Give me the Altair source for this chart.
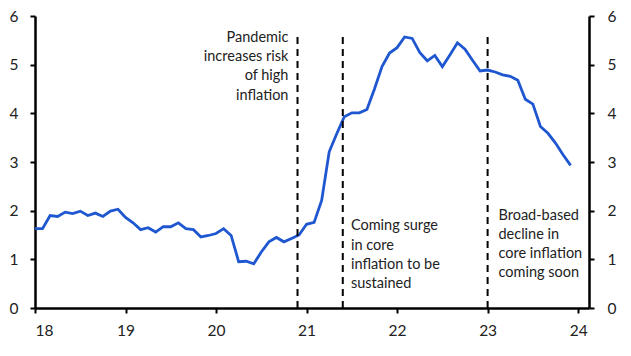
import altair as alt
import pandas as pd

# Monthly core inflation, Jan 2018 .. Dec 2023 (%)
values_2018 = [1.63, 1.63, 1.90, 1.88, 1.97, 1.94, 1.99, 1.90, 1.95, 1.88, 1.99, 2.03]
values_2019 = [1.86, 1.75, 1.61, 1.65, 1.56, 1.67, 1.67, 1.75, 1.63, 1.61, 1.46, 1.49]
values_2020 = [1.53, 1.63, 1.49, 0.95, 0.96, 0.91, 1.15, 1.36, 1.45, 1.36, 1.43, 1.50]
values_2021 = [1.72, 1.76, 2.21, 3.21, 3.58, 3.93, 4.01, 4.01, 4.08, 4.50, 4.96, 5.24]
values_2022 = [5.35, 5.57, 5.54, 5.25, 5.08, 5.19, 4.96, 5.20, 5.45, 5.32, 5.09, 4.87]
values_2023 = [4.89, 4.85, 4.79, 4.76, 4.68, 4.29, 4.19, 3.73, 3.59, 3.39, 3.15, 2.93]
start_year = 18

x_ticks = [18, 19, 20, 21, 22, 23, 24]
y_ticks = [0, 1, 2, 3, 4, 5, 6]

event_x = [20.9, 21.4, 23.0]
event_top = 5.63

annotations = [
    "Pandemic\nincreases risk\nof high\ninflation",
    "Coming surge\nin core\ninflation to be\nsustained",
    "Broad-based\ndecline in\ncore inflation\ncoming soon",
]

series = values_2018 + values_2019 + values_2020 + values_2021 + values_2022 + values_2023
df = pd.DataFrame({"x": [start_year + i / 12 for i in range(len(series))], "v": series})
rules_df = pd.DataFrame({"x": event_x, "y": [0] * 3, "y2": [event_top] * 3})

x_dom = [18, 24.12]
y_dom = [0, 6]
FONT = "Lato"
BLUE = "#1f57d0"

xscale = alt.Scale(domain=x_dom, nice=False, zero=False)
yscale = alt.Scale(domain=y_dom, nice=False)

line = alt.Chart(df).mark_line(color=BLUE, strokeWidth=2.8).encode(
    x=alt.X("x:Q", scale=xscale,
            axis=alt.Axis(values=x_ticks, format="d", title=None, labelPadding=10)),
    y=alt.Y("v:Q", scale=yscale,
            axis=alt.Axis(values=y_ticks, title=None, orient="left", labelPadding=12)),
)

rules = alt.Chart(rules_df).mark_rule(color="black", strokeWidth=2, strokeDash=[7, 5]).encode(
    x=alt.X("x:Q", scale=xscale),
    y=alt.Y("y:Q", scale=yscale,
            axis=alt.Axis(values=y_ticks, title=None, orient="right", labelPadding=13)),
    y2="y2:Q",
)

def ann(text, x, y, align):
    d = pd.DataFrame({"x": [x], "y": [y], "t": [text]})
    return alt.Chart(d).mark_text(
        align=align, baseline="middle", lineBreak="\n", lineHeight=19.3,
        font=FONT, fontSize=14.5, color="#222"
    ).encode(
        x=alt.X("x:Q", scale=xscale),
        y=alt.Y("y:Q", scale=yscale, axis=None),
        text="t:N",
    )

t1 = ann(annotations[0], 20.80, 5.55, "right")
t2 = ann(annotations[1], 21.49, 1.68, "left")
t3 = ann(annotations[2], 23.12, 1.90, "left")

chart = alt.layer(line, rules, t1, t2, t3).resolve_scale(y="independent").properties(
    width=554, height=292,
    autosize=alt.AutoSizeParams(type="none"),
    padding={"left": 27, "top": 8, "right": 33, "bottom": 40},
).configure_view(stroke=None).configure_axis(
    grid=False, domainColor="black", domainWidth=2.5, tickColor="black",
    tickWidth=2, tickSize=5, labelFontSize=15.5, labelFont=FONT, labelColor="#222",
)

chart.save("out.html", embed_options={"renderer": "svg", "actions": False})
